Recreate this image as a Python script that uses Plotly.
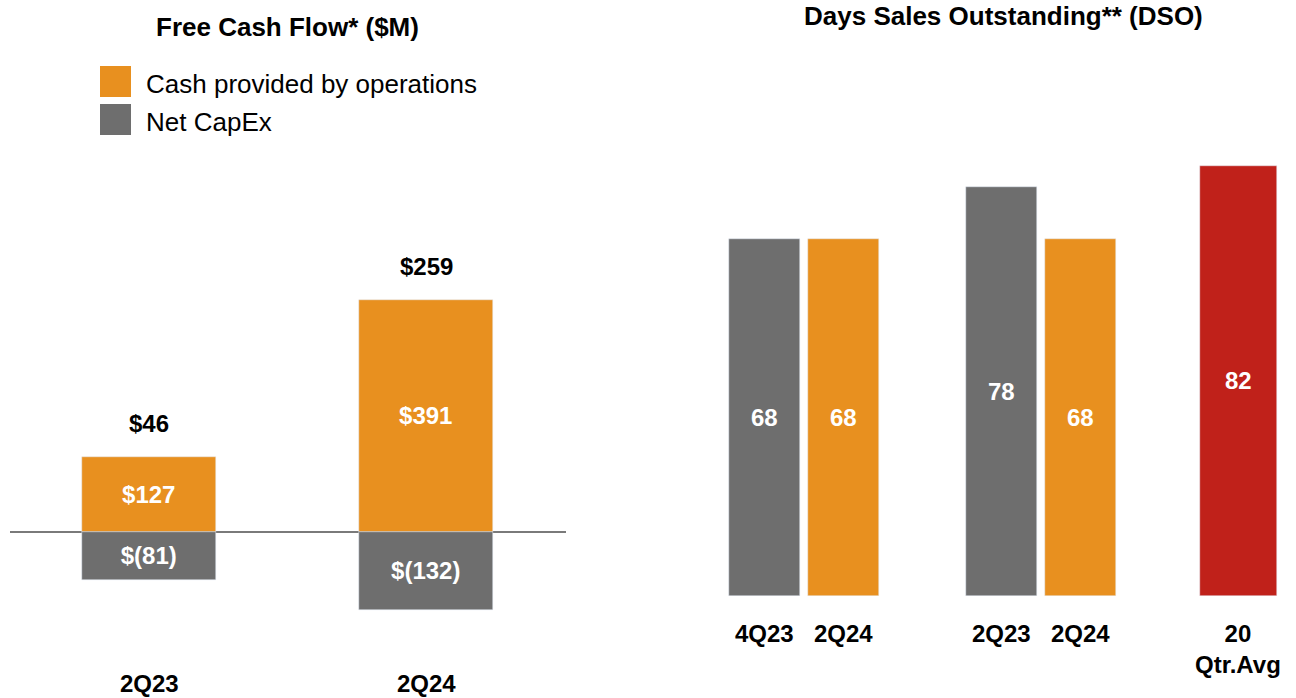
import plotly.graph_objects as go

# Free cash flow ($M)
fcf_quarters = ["2Q23", "2Q24"]
cash_ops = [127, 391]
net_capex = [-81, -132]

# Days sales outstanding
dso_groups = [["4Q23", "2Q24"], ["2Q23", "2Q24"], ["20<br>Qtr.Avg"]]
dso_values = [68, 68, 78, 68, 82]
dso_kinds = ["prior", "current", "prior", "current", "avg"]

ORANGE = "#E8901F"
GREY = "#6E6E6E"
RED = "#C0211A"
FONT = "Liberation Sans Narrow, Liberation Sans, Arial"
W, H = 1296, 698
LBL = 24


def py(p):
    return 1 - p / H


fig = go.Figure()

# left panel - stacked cash flow
fig.add_trace(go.Bar(
    x=fcf_quarters, y=cash_ops, marker_color=ORANGE, width=0.484,
    text=[f"<b>${v}</b>" for v in cash_ops], textposition="inside",
    insidetextanchor="middle",
    textfont=dict(color="white", size=LBL, family=FONT),
    xaxis="x", yaxis="y", showlegend=False,
))
fig.add_trace(go.Bar(
    x=fcf_quarters, y=net_capex, marker_color=GREY, width=0.484,
    text=[f"<b>$({-v})</b>" for v in net_capex], textposition="inside",
    insidetextanchor="middle",
    textfont=dict(color="white", size=LBL, family=FONT),
    xaxis="x", yaxis="y", showlegend=False,
))

# free cash flow totals above bars
for q, c, n in zip(fcf_quarters, cash_ops, net_capex):
    fig.add_annotation(x=q, y=c, xref="x", yref="y", text=f"<b>${c + n}</b>",
                       showarrow=False, yanchor="bottom", xanchor="center", yshift=18,
                       font=dict(size=LBL, family=FONT, color="black"))
    fig.add_annotation(x=q, y=py(683), xref="x", yref="paper", text=f"<b>{q}</b>",
                       showarrow=False, yanchor="middle", xanchor="center",
                       font=dict(size=LBL, family=FONT, color="black"))

# right panel - DSO
dso_x, dso_labels = [], []
pos = 0
for grp in dso_groups:
    for lab in grp:
        dso_x.append(pos)
        dso_labels.append(lab)
        pos += 1
    pos += 1
kind_color = {"prior": GREY, "current": ORANGE, "avg": RED}
fig.add_trace(go.Bar(
    x=dso_x, y=dso_values,
    marker_color=[kind_color[k] for k in dso_kinds],
    width=[0.975 if k == "avg" else 0.9 for k in dso_kinds],
    text=[f"<b>{v}</b>" for v in dso_values], textposition="inside",
    insidetextanchor="middle",
    textfont=dict(color="white", size=LBL, family=FONT),
    xaxis="x2", yaxis="y2", showlegend=False,
))
for xv, lab in zip(dso_x, dso_labels):
    fig.add_annotation(x=xv, y=py(618), xref="x2", yref="paper",
                       text=f"<b>{lab}</b>", showarrow=False, yanchor="top",
                       xanchor="center",
                       font=dict(size=LBL, family=FONT, color="black"))

# titles
fig.add_annotation(x=287 / W, y=py(27), xref="paper", yref="paper",
                   xanchor="center", yanchor="middle",
                   text="<b>Free Cash Flow* ($M)</b>", showarrow=False,
                   font=dict(size=26, family=FONT, color="black"))
fig.add_annotation(x=1003 / W, y=py(16), xref="paper", yref="paper",
                   xanchor="center", yanchor="middle",
                   text="<b>Days Sales Outstanding** (DSO)</b>", showarrow=False,
                   font=dict(size=26, family=FONT, color="black"))

# legend
for i, (name, col) in enumerate([("Cash provided by operations", ORANGE), ("Net CapEx", GREY)]):
    top = 66 + i * 38
    fig.add_shape(type="rect", xref="paper", yref="paper",
                  x0=100 / W, x1=131 / W, y0=py(top + 31), y1=py(top),
                  fillcolor=col, line_width=0)
    fig.add_annotation(x=144 / W, y=py(top + 18), xref="paper", yref="paper",
                       text=name, showarrow=False, xanchor="left", yanchor="middle",
                       font=dict(size=26, family=FONT, color="black"))

fig.update_layout(
    width=W, height=H, margin=dict(l=0, r=0, t=0, b=0),
    barmode="relative", bargap=0,
    plot_bgcolor="white", paper_bgcolor="white",
    xaxis=dict(domain=[10 / W, 566 / W], range=[-0.502, 1.505], type="category",
               showticklabels=False, showgrid=False, zeroline=False, showline=False),
    yaxis=dict(domain=[py(660), py(160)], range=[-215.9, 627.3], showticklabels=False,
               showgrid=False, zeroline=True, zerolinecolor="#7A7A7A", zerolinewidth=2),
    xaxis2=dict(domain=[700 / W, 1296 / W], range=[-0.816, 6.728], anchor="y2",
                showticklabels=False, showgrid=False, zeroline=False, showline=False),
    yaxis2=dict(domain=[py(596), py(160)], range=[0, 83.05], anchor="x2",
                showticklabels=False, showgrid=False, zeroline=False),
)

fig.write_html("out.html", config={"displayModeBar": False},
               post_script="document.body.style.margin='0';")
